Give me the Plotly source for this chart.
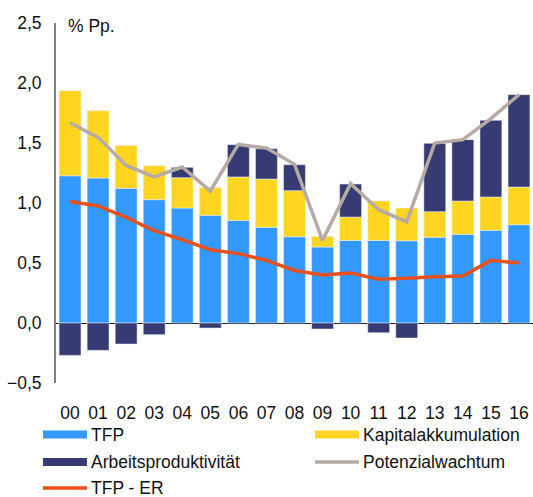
import plotly.graph_objects as go

years = ["00", "01", "02", "03", "04", "05", "06", "07", "08", "09",
         "10", "11", "12", "13", "14", "15", "16"]
tfp = [1.227, 1.208, 1.122, 1.028, 0.958, 0.897, 0.855, 0.797, 0.719, 0.633,
       0.688, 0.688, 0.685, 0.714, 0.739, 0.772, 0.819]
kapital = [0.709, 0.561, 0.358, 0.283, 0.253, 0.233, 0.362, 0.403, 0.384, 0.089,
           0.195, 0.329, 0.273, 0.214, 0.278, 0.278, 0.314]
arbeit = [-0.270, -0.228, -0.175, -0.097, 0.086, -0.042, 0.269, 0.252, 0.216, -0.050,
          0.275, -0.081, -0.125, 0.569, 0.511, 0.639, 0.770]
potenzial = [1.669, 1.547, 1.313, 1.217, 1.300, 1.100, 1.488, 1.458, 1.322, 0.689,
             1.161, 0.944, 0.842, 1.500, 1.528, 1.703, 1.903]
tfp_er = [1.013, 0.975, 0.880, 0.769, 0.694, 0.611, 0.578, 0.522, 0.438, 0.400,
          0.417, 0.364, 0.372, 0.386, 0.392, 0.522, 0.500]

C_TFP = "#3399FF"
C_KAP = "#FFD522"
C_ARB = "#363C73"
C_POT = "#B5AAA4"
C_ER = "#E8501E"

FS = 17.5
W, H = 533, 497
ML, MR, MT, MB = 56, 0, 23, 114
PW, PH = W - ML - MR, H - MT - MB

fig = go.Figure()
fig.add_bar(x=years, y=tfp, name="TFP", marker_color=C_TFP)
fig.add_bar(x=years, y=kapital, name="Kapitalakkumulation", marker_color=C_KAP)
fig.add_bar(x=years, y=arbeit, name="Arbeitsproduktivität", marker_color=C_ARB)
fig.add_scatter(x=years, y=potenzial, name="Potenzialwachtum", mode="lines",
                line=dict(color=C_POT, width=3.5))
fig.add_scatter(x=years, y=tfp_er, name="TFP - ER", mode="lines",
                line=dict(color=C_ER, width=3.5))


def px_x(p):
    return (p - ML) / PW


def px_y(p):
    return (H - MB - p) / PH


shapes = []
annotations = []
legend_items = [
    ("TFP", C_TFP, "bar", 43, 434.5),
    ("Kapitalakkumulation", C_KAP, "bar", 315, 434.5),
    ("Arbeitsproduktivität", C_ARB, "bar", 43, 462),
    ("Potenzialwachtum", C_POT, "line", 315, 462),
    ("TFP - ER", C_ER, "line", 43, 488),
]
for label, col, kind, x0, yc in legend_items:
    if kind == "bar":
        shapes.append(dict(type="rect", xref="paper", yref="paper",
                           x0=px_x(x0), x1=px_x(x0 + 44),
                           y0=px_y(yc + 4), y1=px_y(yc - 4),
                           fillcolor=col, line=dict(width=0)))
    else:
        shapes.append(dict(type="line", xref="paper", yref="paper",
                           x0=px_x(x0), x1=px_x(x0 + 44),
                           y0=px_y(yc), y1=px_y(yc),
                           line=dict(color=col, width=3.5)))
    annotations.append(dict(text=label, xref="paper", yref="paper",
                            x=px_x(x0 + 47), y=px_y(yc), xanchor="left",
                            yanchor="middle", showarrow=False, borderpad=0,
                            font=dict(size=FS, color="#111111")))

annotations.append(dict(text="% Pp.", xref="paper", yref="paper",
                        x=px_x(66), y=px_y(26), xanchor="left", yanchor="middle",
                        showarrow=False, font=dict(size=FS, color="#111111")))

fig.update_layout(
    width=W, height=H,
    margin=dict(l=ML, r=MR, t=MT, b=MB),
    barmode="relative", bargap=0.22,
    separators=",.",
    showlegend=False,
    plot_bgcolor="white", paper_bgcolor="white",
    font=dict(family="Liberation Sans, Arial, sans-serif", size=FS, color="#111111"),
    shapes=shapes, annotations=annotations,
    xaxis=dict(type="category", range=[-0.5, 16.5], showline=False, ticks="",
               showgrid=False, zeroline=False, ticklabelstandoff=17),
    yaxis=dict(range=[-0.5, 2.5], tick0=0, dtick=0.5, tickformat=".1f",
               showgrid=False, showline=True, linecolor="#808080", linewidth=2,
               zeroline=True, zerolinecolor="#222222", zerolinewidth=1,
               ticks="", ticklabelstandoff=9),
)

fig.write_html(
    "out.html",
    config={"displayModeBar": False},
    post_script="document.body.style.margin='0';document.body.style.overflow='hidden';",
)
